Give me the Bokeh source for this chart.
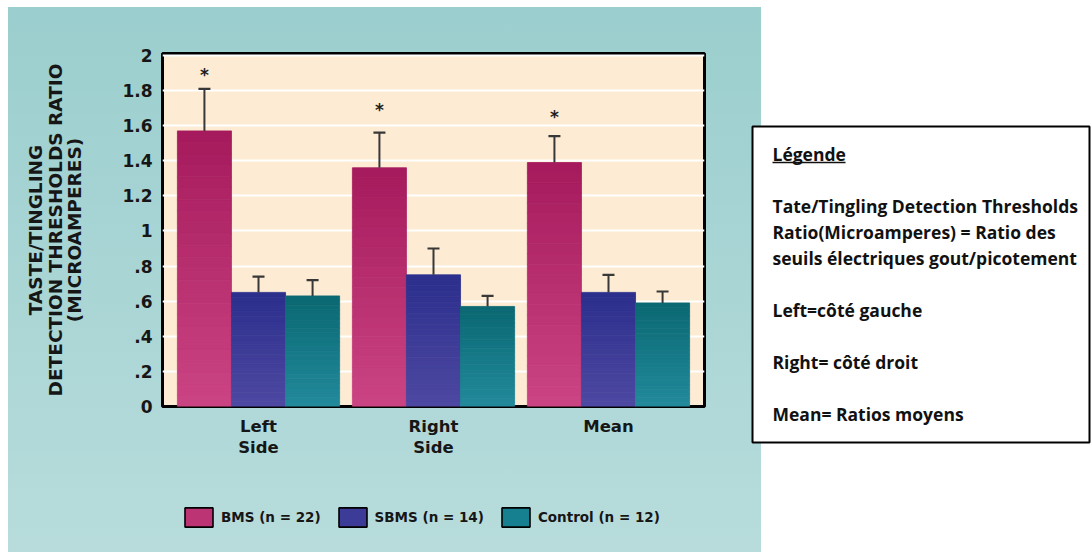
from bokeh.plotting import figure
from bokeh.models import (Range1d, FactorRange, FixedTicker, ColumnDataSource, Legend,
                          LegendItem, LinearAxis)
from bokeh.transform import dodge
from bokeh.layouts import row, column
from bokeh.embed import file_html
from bokeh.resources import INLINE
from bokeh.core.properties import value

# ---------------- data ----------------
categories = ["Left\nSide", "Right\nSide", "Mean"]
series_names = ["BMS (n = 22)", "SBMS (n = 14)", "Control (n = 12)"]
bms = [1.57, 1.36, 1.39]
bms_err = [0.24, 0.20, 0.15]
sbms = [0.65, 0.75, 0.65]
sbms_err = [0.09, 0.15, 0.10]
control = [0.63, 0.57, 0.59]
control_err = [0.09, 0.06, 0.065]
star_y = [1.91, 1.71, 1.67]
y_ticks = [0, 0.2, 0.4, 0.6, 0.8, 1, 1.2, 1.4, 1.6, 1.8, 2]
y_tick_labels = ["0", ".2", ".4", ".6", ".8", "1", "1.2", "1.4", "1.6", "1.8", "2"]
y_title_lines = ["TASTE/TINGLING", "DETECTION THRESHOLDS RATIO", "(MICROAMPERES)"]
note_lines = [
    "Légende",
    "Tate/Tingling Detection Thresholds",
    "Ratio(Microamperes) = Ratio des",
    "seuils électriques gout/picotement",
    "Left=côté gauche",
    "Right= côté droit",
    "Mean= Ratios moyens",
]

# ---------------- styling ----------------
PEACH = "#fdebd3"
grad = {
    "BMS": ((0xcb, 0x44, 0x83), (0xa5, 0x1a, 0x5c)),      # bottom, top
    "SBMS": ((0x4e, 0x49, 0xa2), (0x2b, 0x2e, 0x8c)),
    "Control": ((0x22, 0x8a, 0x9c), (0x0a, 0x68, 0x72)),
}
legend_fill = ["#bd3475", "#3c3b97", "#168090"]
BW = 0.309
offsets = [-BW, 0.0, BW]
NSLICE = 24
TXT = "#161616"


def hexc(c):
    return "#%02x%02x%02x" % tuple(int(round(v)) for v in c)


p = figure(width=753, height=473,
           x_range=FactorRange(*categories, range_padding=0.0324),
           y_range=Range1d(0, 2.011),
           output_backend="svg", toolbar_location=None,
           min_border_left=154, min_border_right=57,
           min_border_top=46, min_border_bottom=74)
p.background_fill_color = PEACH
p.border_fill_alpha = 0
p.outline_line_color = "black"
p.outline_line_width = 3

p.xgrid.grid_line_color = None
p.ygrid.ticker = FixedTicker(ticks=y_ticks)
p.ygrid.grid_line_color = "white"
p.ygrid.grid_line_width = 2

yax = p.yaxis[0]
yax.ticker = FixedTicker(ticks=y_ticks)
yax.major_label_overrides = dict(zip(y_ticks, y_tick_labels))
yax.axis_line_color = None
yax.major_tick_line_color = None
yax.minor_tick_line_color = None
yax.major_tick_out = 0
yax.major_label_standoff = 10
yax.major_label_text_font = "DejaVu Sans"
yax.major_label_text_font_style = "bold"
yax.major_label_text_font_size = "17px"
yax.major_label_text_color = TXT


def style_title(ax, text, standoff):
    ax.axis_label = text
    ax.axis_label_text_font = "DejaVu Sans"
    ax.axis_label_text_font_style = "bold"
    ax.axis_label_text_font_size = "18.5px"
    ax.axis_label_text_color = TXT
    ax.axis_label_standoff = standoff


# innermost line on the main axis, outer lines on label-only axes (each centred)
style_title(yax, y_title_lines[2], 34)
for txt in [y_title_lines[1], y_title_lines[0]]:
    ax = LinearAxis(ticker=FixedTicker(ticks=[]), axis_line_color=None,
                    major_tick_line_color=None, minor_tick_line_color=None,
                    major_tick_out=0, major_tick_in=0, minor_tick_out=0, minor_tick_in=0,
                    major_label_standoff=0)
    style_title(ax, txt, -4)
    p.add_layout(ax, "left")

xax = p.xaxis[0]
xax.axis_line_color = None
xax.major_tick_line_color = None
xax.minor_tick_line_color = None
xax.major_tick_out = 0
xax.major_label_standoff = 10
xax.major_label_text_font = "DejaVu Sans"
xax.major_label_text_font_style = "bold"
xax.major_label_text_font_size = "16.5px"
xax.major_label_text_color = TXT
xax.major_label_text_line_height = 1.15

# bars with vertical gradient (bottom light -> top dark), built from the data arrays
series_vals = [("BMS", bms, bms_err), ("SBMS", sbms, sbms_err), ("Control", control, control_err)]
for (key, vals, errs), off in zip(series_vals, offsets):
    lo, hi = grad[key]
    xs, bots, tops, cols = [], [], [], []
    for cat, v in zip(categories, vals):
        for k in range(NSLICE):
            t = (k + 0.5) / NSLICE
            xs.append(cat)
            bots.append(v * k / NSLICE)
            tops.append(v * (k + 1) / NSLICE)
            cols.append(hexc([lo[i] + (hi[i] - lo[i]) * t for i in range(3)]))
    src = ColumnDataSource(dict(cat=xs, bottom=bots, top=tops, color=cols))
    p.vbar(x=dodge("cat", off, range=p.x_range), bottom="bottom", top="top", width=BW,
           fill_color="color", line_color="color", line_width=0.8, source=src)

    esrc = ColumnDataSource(dict(cat=categories, val=vals,
                                 hi=[v + e for v, e in zip(vals, errs)]))
    p.segment(x0=dodge("cat", off, range=p.x_range), y0="val",
              x1=dodge("cat", off, range=p.x_range), y1="hi",
              line_color="#383838", line_width=2, source=esrc)
    p.scatter(x=dodge("cat", off, range=p.x_range), y="hi", marker="dash", size=12,
              line_color="#383838", line_width=2.2, source=esrc)

ssrc = ColumnDataSource(dict(cat=categories, y=star_y, t=["*"] * len(categories)))
p.text(x=dodge("cat", offsets[0], range=p.x_range), y="y", text="t", source=ssrc,
       text_font=value("DejaVu Sans"), text_font_style="bold", text_font_size="17px",
       text_align="center", text_baseline="middle", y_offset=4, text_color="#1e1e1e")

# ---------------- legend strip (frame aligned with the chart frame) ----------------
strip = figure(width=753, height=72, x_range=Range1d(0, 1), y_range=Range1d(0, 1),
               output_backend="svg", toolbar_location=None,
               x_axis_type=None, y_axis_type=None,
               min_border_left=154, min_border_right=57, min_border_top=0, min_border_bottom=0)
strip.background_fill_alpha = 0
strip.border_fill_alpha = 0
strip.outline_line_color = None
items = []
for name, col in zip(series_names, legend_fill):
    # legend swatch only: a zero-size bar that draws nothing in the strip itself
    r = strip.vbar(x=[0.5], bottom=[0.5], top=[0.5], width=0,
                   fill_color=col, line_color="black", line_width=1.6)
    items.append(LegendItem(label=name, renderers=[r]))
leg = Legend(items=items, orientation="horizontal", location=(19, 23),
             glyph_width=35, glyph_height=24, label_standoff=5, spacing=14,
             padding=0, margin=0, border_line_color=None, background_fill_alpha=0,
             label_text_font="DejaVu Sans", label_text_font_style="bold",
             label_text_font_size="13.5px", label_text_color=TXT)
strip.add_layout(leg, "center")

# ---------------- note box ----------------
FW, FH = 337, 316
bf = figure(width=340, height=545, x_range=Range1d(0, FW), y_range=Range1d(FH, 0),
            output_backend="svg", toolbar_location=None,
            x_axis_type=None, y_axis_type=None,
            min_border_left=1, min_border_right=2, min_border_top=119, min_border_bottom=110)
bf.border_fill_alpha = 0
bf.background_fill_color = "white"
bf.outline_line_color = "black"
bf.outline_line_width = 2
bf.margin = (0, 0, 0, -10)
slots = [0, 2, 3, 4, 6, 8, 10]
bf.text(x=[20] * len(note_lines), y=[27 + 26 * s for s in slots], text=note_lines,
        text_font=value("Open Sans"), text_font_style="bold", text_font_size="17.5px",
        text_baseline="middle", text_align="left", text_color="#111111")
bf.segment(x0=[20], y0=[36], x1=[93], y1=[36], line_color="#111111", line_width=1.5)

panel = column(p, strip, spacing=0,
               styles={"background": "linear-gradient(to bottom, #9bcece, #b8dcdc)"})
layout = row(panel, bf, spacing=0)
layout.margin = (7, 0, 0, 8)
open("out.html", "w").write(file_html(layout, INLINE))
